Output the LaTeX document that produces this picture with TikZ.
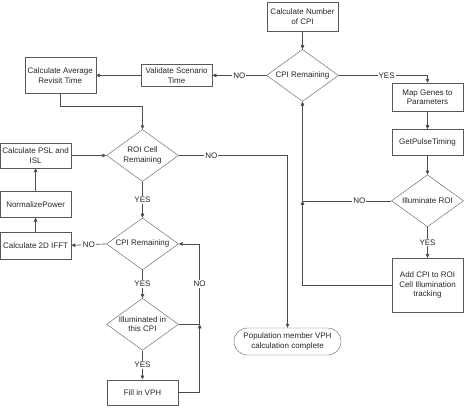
\documentclass[tikz,border=0pt]{standalone}
\usepackage{fontspec}
\setmainfont{Liberation Sans}
\usepackage{tikz}
\usetikzlibrary{shapes.geometric, shapes.misc, positioning, arrows.meta, calc}

\begin{document}
\begin{tikzpicture}[
        x=1pt, y=1pt,
        every node/.style={font=\fontsize{8}{9.5}\selectfont, text=black!85},
        process/.style={draw=black!65, rectangle, minimum width=71pt, minimum height=26pt, align=center, inner sep=2pt},
        decision/.style={draw=black!65, diamond, aspect=1.385, minimum width=72pt, minimum height=52pt, align=center, inner sep=0pt},
        terminal/.style={draw=black!65, rounded rectangle, minimum width=111pt, minimum height=27pt, align=center, inner sep=2pt},
        label/.style={fill=white, inner sep=1pt},
        arrow/.style={-{Triangle[length=4pt, width=3.6pt]}, draw=black!70, line width=0.6pt},
        line/.style={draw=black!70, line width=0.6pt}
      ]
      \useasboundingbox (0,0) rectangle (466,-415);

      % top loop
      \node[process, minimum height=29pt] (calcnum) at (302.5,-16.5) {Calculate Number\\of CPI};
      \node[decision, below=18pt of calcnum] (cpirem) {CPI Remaining};
      \node[process, minimum height=22pt, left=54pt of cpirem] (validate) {Validate Scenario\\Time};
      \node[process, minimum height=36pt, left=45pt of validate] (avgrev) {Calculate Average\\Revisit Time};

      % right column
      \node[process, minimum height=28pt] (mapgenes) at (427.5,-97) {Map Genes to\\Parameters};
      \node[process, below=18pt of mapgenes] (getpulse) {GetPulseTiming};
      \node[decision, below=19pt of getpulse] (illumroi) {Illuminate ROI};
      \node[process, minimum height=54pt, below=31pt of illumroi] (addcpi) {Add CPI to ROI\\Cell Illumination\\tracking};

      % ROI cell loop
      \node[decision] (roicell) at (142.5,-155.5) {ROI Cell\\Remaining};
      \node[process, minimum height=25pt, left=35pt of roicell] (psl) {Calculate PSL and\\ISL};
      \node[process, below=23pt of psl] (normpow) {NormalizePower};
      \node[process, minimum height=27pt, below=14pt of normpow] (ifft) {Calculate 2D IFFT};
      \node[decision, below=36pt of roicell] (cpirem2) {CPI Remaining};
      \node[decision, below=28pt of cpirem2] (illumcpi) {Illuminated in\\this CPI};
      \node[process, minimum height=25pt, below=29pt of illumcpi] (fillvph) {Fill in VPH};

      \node[terminal] (popdone) at (287.5,-341.5) {Population member VPH\\calculation complete};

      % junctions
      \coordinate (jroi) at (cpirem.south |- illumroi.west);
      \coordinate (jcpi) at ($(illumcpi.east)+(21pt,0)$);

      % edges
      \draw[arrow] (calcnum) -- (cpirem);
      \draw[arrow] (cpirem.west) -- node[label] {NO} (validate.east);
      \draw[arrow] (validate) -- (avgrev);
      \draw[arrow] (avgrev.south) -- ++(0,-13) -| (roicell.north);
      \draw[arrow] (cpirem.east) -| node[label, pos=0.27] {YES} (mapgenes.north);
      \draw[arrow] (mapgenes) -- (getpulse);
      \draw[arrow] (getpulse) -- (illumroi);
      \draw[arrow] (illumroi) -- node[label] {YES} (addcpi);
      \draw[arrow] (addcpi.west) -| (jroi);
      \draw[line] (illumroi.west) -- node[label, pos=0.36] {NO} (jroi);
      \draw[arrow] (jroi) -- (cpirem.south);

      \draw[arrow] (roicell.east) -| node[label, pos=0.15] {NO} (popdone.north);
      \draw[arrow] (roicell) -- node[label] {YES} (cpirem2);
      \draw[arrow] (psl.east) -- (roicell.west);
      \draw[arrow] (normpow) -- (psl);
      \draw[arrow] (ifft) -- (normpow);
      \draw[arrow] (cpirem2.west) -- node[label] {NO} (ifft.east);
      \draw[arrow] (cpirem2) -- node[label] {YES} (illumcpi);
      \draw[arrow] (illumcpi) -- node[label] {YES} (fillvph);
      \draw[arrow] (fillvph.east) -| (jcpi);
      \draw[line] (illumcpi.east) -- (jcpi);
      \draw[arrow] (jcpi) |- node[label, pos=0.25] {NO} (cpirem2.east);

      \end{tikzpicture}
\end{document}
